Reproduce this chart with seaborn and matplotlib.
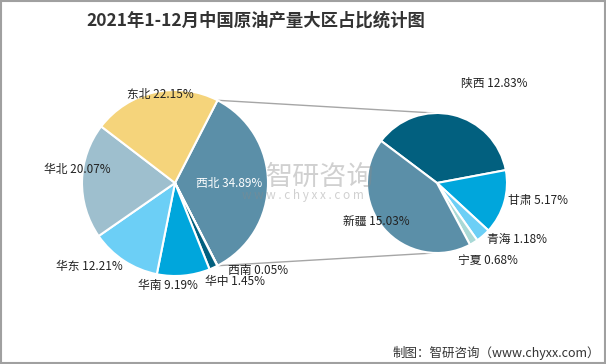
import numpy as np
import matplotlib.pyplot as plt
import seaborn as sns
from matplotlib.patches import Rectangle

# ------------------------------
# data
# ------------------------------
regions = ['西北', '西南', '华中', '华南', '华东', '华北', '东北']
region_share = [34.89, 0.05, 1.45, 9.19, 12.21, 20.07, 22.15]
provinces = ['陕西', '甘肃', '青海', '宁夏', '新疆']
province_share = [12.83, 5.17, 1.18, 0.68, 15.03]

# ------------------------------
# style
# ------------------------------
sns.set_theme(style="white")
plt.rcParams['font.family'] = ['Noto Sans CJK SC', 'DejaVu Sans']

left_colors = ['#5B8FA8', '#1B4F6E', '#02607F', '#00A6DC', '#6CCFF6', '#9EBFCE', '#F5D47B']
right_colors = ['#02607F', '#00A6DC', '#6CCFF6', '#A9D9D6', '#5B8FA8']

# label placement (angle in degrees, distance in radii)
left_lab_pos = [(0, 0.58), (313.5, 1.29), (301.2, 1.24), (266, 1.10),
                (224.3, 1.28), (172, 1.06), (99.7, 0.96)]
right_lab_pos = [(60.3, 1.64), (-9.6, 1.46), (-35, 1.40), (-56.8, 1.33), (212.6, 1.03)]

left_c, left_r = (175, 181), 93
right_c, right_r = (437, 181), 70
wp = dict(edgecolor='white', linewidth=1.5)

fig = plt.figure(figsize=(6.06, 3.64), dpi=100)
ax = fig.add_axes([0, 0, 1, 1])

# left pie: 西北 centred on the right side
start = region_share[0] / sum(region_share) * 360 / 2
lw, _ = ax.pie(region_share, colors=left_colors, startangle=start, counterclock=False,
               center=left_c, radius=left_r, wedgeprops=wp)
rw, _ = ax.pie(province_share, colors=right_colors, startangle=143, counterclock=False,
               center=right_c, radius=right_r, wedgeprops=wp)

ax.set_xlim(0, 606)
ax.set_ylim(0, 364)
ax.set_aspect('equal')
ax.axis('off')


def polar(c, r, ang, d):
    a = np.deg2rad(ang)
    return c[0] + r * d * np.cos(a), c[1] + r * d * np.sin(a)


for name, v, (ang, d) in zip(regions, region_share, left_lab_pos):
    x, y = polar(left_c, left_r, ang, d)
    col = 'white' if name == '西北' else '#222222'
    ax.text(x, y, f'{name} {v:.2f}%', ha='center', va='center', fontsize=8.5, color=col)

for name, v, (ang, d) in zip(provinces, province_share, right_lab_pos):
    x, y = polar(right_c, right_r, ang, d)
    ax.text(x, y, f'{name} {v:.2f}%', ha='center', va='center', fontsize=8.5, color='#222222')

# connector lines
w0 = lw[0]
for ang_l, ang_r in [(w0.theta2, 92), (w0.theta1, 268)]:
    x1, y1 = polar(left_c, left_r, ang_l, 1)
    x2, y2 = polar(right_c, right_r, ang_r, 1)
    ax.plot([x1, x2], [y1, y2], color='#A6A6A6', lw=1, zorder=0)

# watermark
ax.text(320, 187, '智研咨询', ha='center', va='center', fontsize=19.5, color='#8A8A8A',
        alpha=0.4, zorder=5)
ax.text(303, 168, 'w w w . c h y x x . c o m', ha='center', va='center', fontsize=8.5,
        color='#8A8A8A', alpha=0.4, zorder=5)

# title and footer
fig.text(256 / 606, 1 - 21 / 364, '2021年1-12月中国原油产量大区占比统计图', ha='center',
         va='center', fontsize=12.5, fontweight='bold', color='#333333')
fig.text(600 / 606, 1 - 353 / 364, '制图：智研咨询（www.chyxx.com）', ha='right', va='center',
         fontsize=9, color='#333333')

fig.patches.append(Rectangle((0.001, 0.002), 0.997, 0.995, transform=fig.transFigure,
                             fill=False, edgecolor='#A0A0A0', lw=1.5))

fig.savefig('out.png', dpi=100)
